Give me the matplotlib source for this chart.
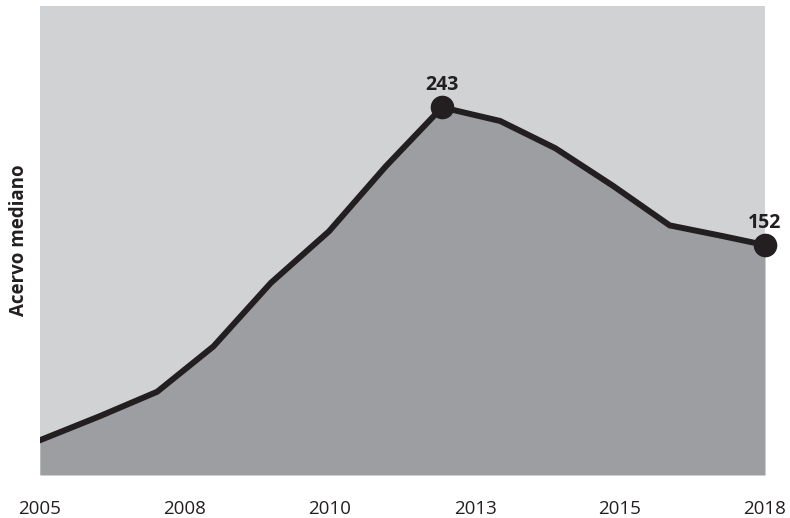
import matplotlib.pyplot as plt
import numpy as np

# median holdings per period (fractional year positions)
years = [2005.0, 2006.08, 2007.1, 2008.11, 2009.14, 2010.18, 2011.2,
         2012.21, 2013.25, 2014.24, 2015.28, 2016.29, 2017.23, 2018.0]
values = [23, 39, 55, 85, 127, 161, 204, 243, 234, 216, 191, 165, 158, 152]
tick_labels = ["2005", "2008", "2010", "2013", "2015", "2018"]
highlight = [7, 13]

plt.rcParams["font.family"] = ["Open Sans", "DejaVu Sans"]

fig = plt.figure(figsize=(7.9, 5.18), dpi=100)
ax = fig.add_axes([40 / 790, 43 / 518, 725 / 790, 469 / 518])
ax.set_facecolor("#d1d2d4")

ax.fill_between(years, values, 0, color="#9d9ea1", linewidth=0)
ax.plot(years, values, color="#231f20", linewidth=4.3, solid_joinstyle="miter")

for i in highlight:
    ax.plot(years[i], values[i], "o", color="#231f20", markersize=16, clip_on=False, zorder=5)
    ax.annotate(str(values[i]), (years[i], values[i]), xytext=(0, 12.5),
                textcoords="offset points", ha="center", va="baseline",
                fontsize=14, fontweight="bold", color="#231f20")

ax.set_xlim(2005, 2018)
ax.set_ylim(0, 310)
ax.set_xticks(np.linspace(2005, 2018, len(tick_labels)))
ax.set_xticklabels(tick_labels, fontsize=13.5, color="#231f20")
ax.tick_params(axis="x", length=0, pad=18)
ax.set_yticks([])
for side in ax.spines.values():
    side.set_visible(False)

ax.set_ylabel("Acervo mediano", fontsize=13.5, fontweight="bold", color="#231f20", labelpad=8)

fig.savefig("out.png", dpi=100)
